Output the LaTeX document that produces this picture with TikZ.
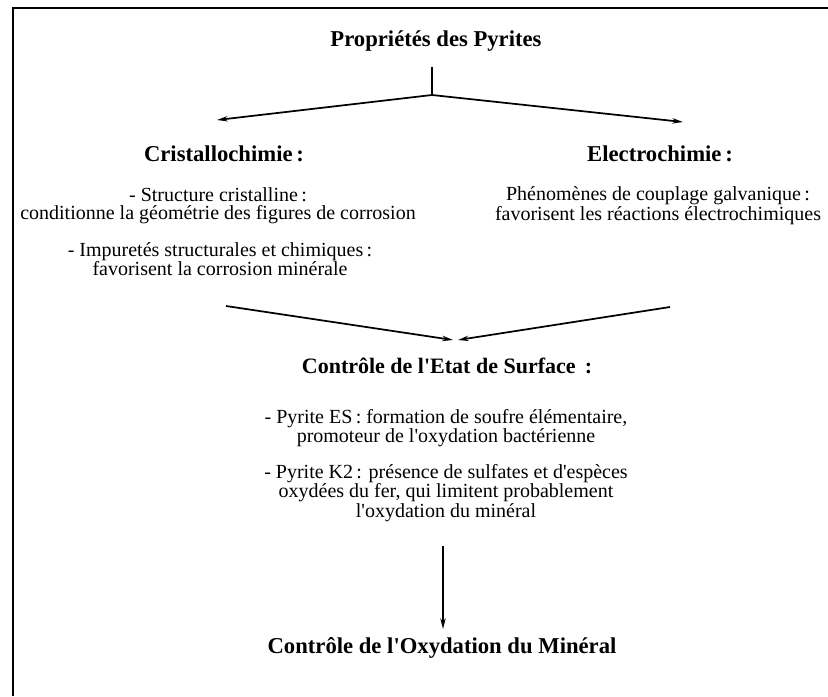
\documentclass[tikz,border=0pt]{standalone}
\usepackage{fontspec}
\setmainfont{Liberation Serif}
\usetikzlibrary{arrows.meta}
\newcommand{\ap}{\textquotesingle}
\begin{document}
\begin{tikzpicture}[x=0.75pt,y=-0.75pt,
  txt/.style={align=center,font=\fontsize{15}{13.5}\selectfont,inner sep=0pt},
  head/.style={align=center,font=\fontsize{16.5}{15}\selectfont\bfseries,inner sep=0pt},
  conn/.style={line width=1.3pt,-{Stealth[length=8pt,width=4pt]}},
  plain/.style={line width=1.3pt}]
\useasboundingbox (0,0) rectangle (828,696);
\fill[white] (0,0) rectangle (828,696);
\draw[line width=1.6pt] (13,696) -- (13,8) -- (828,8);

\node[head,font=\fontsize{17}{16}\selectfont\bfseries] (title) at (436,41) {Propriétés des Pyrites};
\coordinate (t0) at (432,67);
\coordinate (fork) at (432,95);
\coordinate (lt) at (217,120);
\coordinate (rt) at (683,122);
\draw[plain] (t0) -- (fork);
\draw[conn] (fork) -- (lt);
\draw[conn] (fork) -- (rt);

\node[head,font=\fontsize{17}{15}\selectfont\bfseries] (cris) at (224,154) {Cristallochimie\,:};
\node[head,font=\fontsize{17}{15}\selectfont\bfseries] (elec) at (660,154) {Electrochimie\,:};

\node[txt] (struct) at (218,206) {- Structure cristalline\,:\\conditionne la géométrie des figures de corrosion};
\node[txt] (impur) at (220,259) {- Impuretés structurales et chimiques\,:\\favorisent la corrosion minérale};
\node[txt] (phen) at (658,206) {Phénomènes de couplage galvanique\,:\\favorisent les réactions électrochimiques};

\coordinate (la) at (226,306);
\coordinate (ra) at (670,307);
\coordinate (lm) at (453,340);
\coordinate (rm) at (458,340);
\draw[conn] (la) -- (lm);
\draw[conn] (ra) -- (rm);

\node[head] (surf) at (447,366) {Contrôle de l\ap Etat de Surface\ \,:};
\node[txt] (es) at (446,428) {- Pyrite ES\,: formation de soufre élémentaire,\\promoteur de l\ap oxydation bactérienne};
\node[txt] (k2) at (446,493) {- Pyrite K2\,: présence de sulfates et d\ap espèces\\oxydées du fer, qui limitent probablement\\l\ap oxydation du minéral};

\coordinate (v0) at (443,546);
\coordinate (v1) at (443,629);
\draw[conn] (v0) -- (v1);

\node[head,font=\fontsize{17}{15}\selectfont\bfseries] (oxy) at (442,648) {Contrôle de l\ap Oxydation du Minéral};
\end{tikzpicture}
\end{document}
